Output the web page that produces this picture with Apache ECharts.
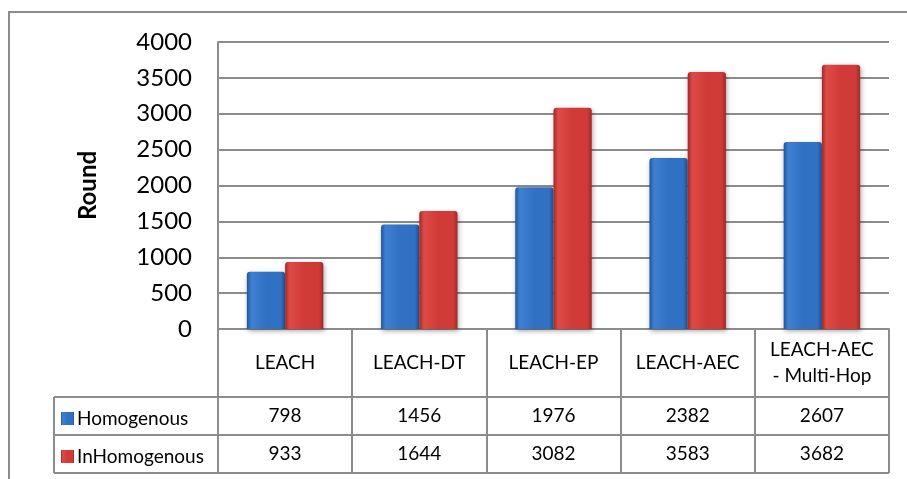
<!DOCTYPE html>
<html>
<head>
<meta charset="utf-8">
<script src="https://cdn.jsdelivr.net/npm/echarts@6/dist/echarts.min.js"></script>
<style>
  html, body { margin: 0; padding: 0; background: #fff; }
  #chart { width: 907px; height: 479px; }
</style>
</head>
<body>
<div id="chart"></div>
<script>
// Network lifetime (rounds) per clustering protocol
const categories = ['LEACH', 'LEACH-DT', 'LEACH-EP', 'LEACH-AEC', 'LEACH-AEC\n- Multi-Hop'];
const homogenous = [798, 1456, 1976, 2382, 2607];
const inHomogenous = [933, 1644, 3082, 3583, 3682];
const seriesNames = ['Homogenous', 'InHomogenous'];
const yTicks = { min: 0, max: 4000, step: 500 };

// Layout of the plot box and the data table under it
const W = 907, H = 479;
const plot = { left: 218, right: 889, top: 42, bottom: 329 };
const headerRowH = 68, valueRowH = 38, legendColLeft = 54;
const row1Top = plot.bottom + headerRowH;
const row2Top = row1Top + valueRowH;
const tableBottom = row2Top + valueRowH;

const FONT = 'Lato, "Liberation Sans", sans-serif';
const LINE = '#8c8c8c';

function barGradient(edge, mid, light) {
  return new echarts.graphic.LinearGradient(0, 0, 1, 0, [
    { offset: 0, color: edge },
    { offset: 0.12, color: light },
    { offset: 0.5, color: mid },
    { offset: 0.88, color: mid },
    { offset: 1, color: edge }
  ]);
}
const blueFill = barGradient('#23559a', '#3171c4', '#3d80d2');
const redFill = barGradient('#9e2a28', '#d03b37', '#de4a45');

const chart = echarts.init(document.getElementById('chart'), null, { renderer: 'canvas' });

function rowAxis(values, rowCenter) {
  return {
    type: 'category',
    data: categories,
    position: 'bottom',
    gridIndex: 0,
    axisLine: { show: false },
    axisTick: { show: false },
    splitLine: { show: false },
    axisLabel: {
      margin: rowCenter - plot.bottom,
      verticalAlign: 'middle',
      fontFamily: FONT,
      fontSize: 19,
      color: '#000',
      interval: 0,
      formatter: (v, i) => String(values[i])
    }
  };
}

// one legend entry per table row
function rowLegend(name, rowTop) {
  return {
    orient: 'vertical',
    left: legendColLeft + 7,
    top: rowTop + valueRowH / 2 - 7,
    itemWidth: 13,
    itemHeight: 13,
    icon: 'rect',
    selectedMode: false,
    padding: 0,
    textStyle: { fontFamily: FONT, fontSize: 19, color: '#000', padding: [0, 0, 0, -2] },
    data: [name]
  };
}

const hLine = (x1, y, x2) => ({
  type: 'line',
  shape: { x1: x1, y1: y, x2: x2, y2: y },
  style: { stroke: LINE, lineWidth: 2 },
  silent: true
});

chart.setOption({
  animation: false,
  backgroundColor: '#fff',
  grid: {
    left: plot.left,
    right: W - plot.right,
    top: plot.top,
    bottom: H - plot.bottom,
    containLabel: false
  },
  legend: [rowLegend(seriesNames[0], row1Top), rowLegend(seriesNames[1], row2Top)],
  xAxis: [
    {
      type: 'category',
      data: categories,
      position: 'bottom',
      boundaryGap: true,
      axisLine: { show: true, lineStyle: { color: LINE, width: 2 } },
      axisTick: {
        show: true,
        inside: false,
        length: headerRowH + 2 * valueRowH,
        lineStyle: { color: LINE, width: 2 }
      },
      splitLine: { show: false },
      axisLabel: {
        margin: headerRowH / 2,
        verticalAlign: 'middle',
        align: 'center',
        lineHeight: 26,
        fontFamily: FONT,
        fontSize: 19,
        color: '#000',
        interval: 0
      }
    },
    rowAxis(homogenous, row1Top + valueRowH / 2),
    rowAxis(inHomogenous, row2Top + valueRowH / 2)
  ],
  yAxis: {
    type: 'value',
    min: yTicks.min,
    max: yTicks.max,
    interval: yTicks.step,
    name: 'Round',
    nameLocation: 'middle',
    nameRotate: 90,
    nameGap: 118,
    nameTextStyle: { fontFamily: FONT, fontSize: 24, fontWeight: 'bold', color: '#000' },
    axisLine: { show: true, lineStyle: { color: LINE, width: 2 } },
    axisTick: { show: false },
    axisLabel: {
      margin: 26,
      fontFamily: FONT,
      fontSize: 24,
      color: '#000',
      formatter: (v) => String(v)
    },
    splitLine: { show: true, lineStyle: { color: LINE, width: 2 } }
  },
  series: [
    {
      name: seriesNames[0],
      type: 'bar',
      xAxisIndex: 0,
      data: homogenous,
      barGap: '0%',
      barCategoryGap: '43%',
      itemStyle: {
        color: blueFill,
        borderRadius: [3, 3, 0, 0],
        shadowBlur: 5,
        shadowColor: 'rgba(0,0,0,0.35)',
        shadowOffsetX: 1,
        shadowOffsetY: 2
      }
    },
    {
      name: seriesNames[1],
      type: 'bar',
      xAxisIndex: 0,
      data: inHomogenous,
      barGap: '0%',
      barCategoryGap: '43%',
      itemStyle: {
        color: redFill,
        borderRadius: [3, 3, 0, 0],
        shadowBlur: 5,
        shadowColor: 'rgba(0,0,0,0.35)',
        shadowOffsetX: 1,
        shadowOffsetY: 2
      }
    }
  ],
  graphic: [
    // chart frame
    {
      type: 'rect',
      shape: { x: 9, y: 12, width: W + 20, height: H + 20 },
      style: { fill: 'none', stroke: LINE, lineWidth: 2 },
      silent: true
    },
    // data table rules
    hLine(legendColLeft, row1Top, plot.right),
    hLine(legendColLeft, row2Top, plot.right),
    hLine(legendColLeft, tableBottom, plot.right),
    {
      type: 'line',
      shape: { x1: legendColLeft, y1: row1Top, x2: legendColLeft, y2: tableBottom },
      style: { stroke: LINE, lineWidth: 2 },
      silent: true
    }
  ]
});
</script>
</body>
</html>
